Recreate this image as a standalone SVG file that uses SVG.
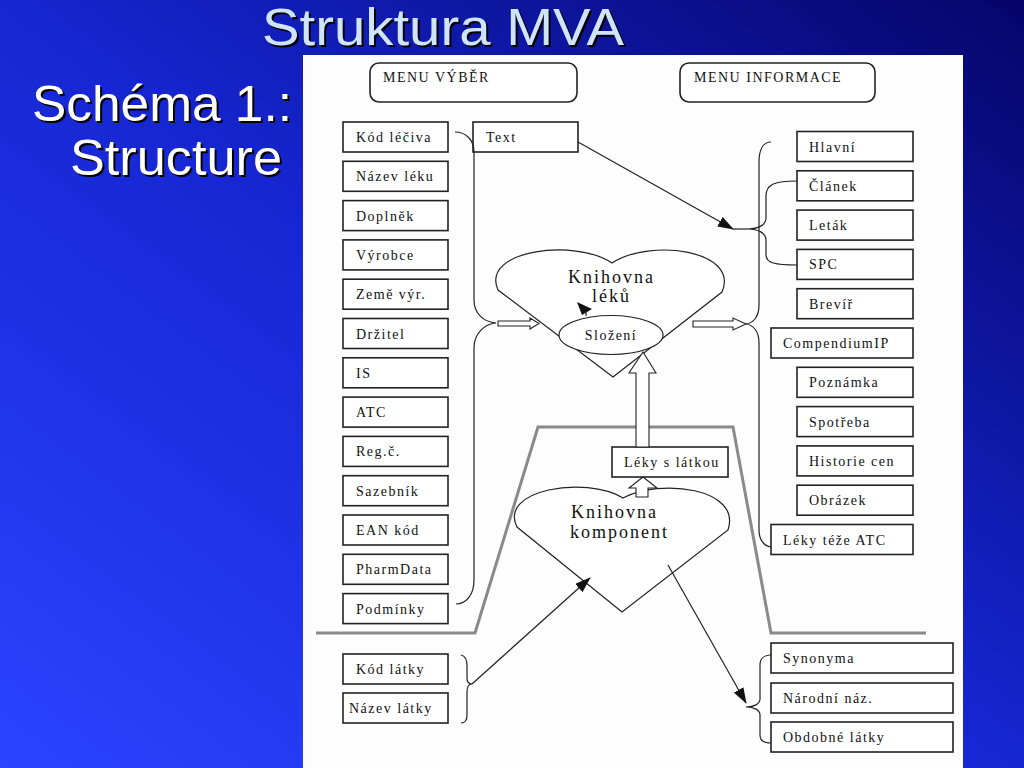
<svg xmlns="http://www.w3.org/2000/svg" width="1024" height="768" viewBox="0 0 1024 768">
<defs>
<linearGradient id="bg" x1="0" y1="1" x2="1" y2="0">
<stop offset="0" stop-color="#2a44ff"/>
<stop offset="0.5" stop-color="#1626d2"/>
<stop offset="1" stop-color="#05056a"/>
</linearGradient>
<marker id="ah" markerWidth="16" markerHeight="11" refX="15" refY="5.5" orient="auto" markerUnits="userSpaceOnUse">
<path d="M0,0 L16,5.5 L0,11 Z" fill="#111"/>
</marker>
<style>
.b{fill:#fff;stroke:#222;stroke-width:1.6}
.t{font-family:"Liberation Serif","Times New Roman",serif;font-size:14px;letter-spacing:1.5px;fill:#111}
.h{font-family:"Liberation Serif","Times New Roman",serif;font-size:18px;letter-spacing:2px;fill:#111}
.ln{fill:none;stroke:#222;stroke-width:1.2}
.ha{fill:#fff;stroke:#222;stroke-width:1.1}
.hd{fill:#fff;stroke:#222;stroke-width:1.2}
.gr{fill:none;stroke:#8a8a8a;stroke-width:3}
.ti{font-family:"Liberation Sans",Arial,sans-serif}
</style>
</defs>
<rect width="1024" height="768" fill="url(#bg)"/>
<g id="title">
<text class="ti" x="264" y="47" font-size="52" fill="#000" textLength="362" lengthAdjust="spacingAndGlyphs">Struktura MVA</text>
<text class="ti" x="262" y="45" font-size="52" fill="#cfe4ff" textLength="362" lengthAdjust="spacingAndGlyphs">Struktura MVA</text>
</g>
<g id="subtitle">
<text class="ti" x="34" y="123" font-size="50" fill="#000" textLength="260" lengthAdjust="spacingAndGlyphs">Schéma 1.:</text>
<text class="ti" x="32" y="121" font-size="50" fill="#fff" textLength="260" lengthAdjust="spacingAndGlyphs">Schéma 1.:</text>
<text class="ti" x="72" y="177" font-size="50" fill="#000" textLength="212" lengthAdjust="spacingAndGlyphs">Structure</text>
<text class="ti" x="70" y="175" font-size="50" fill="#fff" textLength="212" lengthAdjust="spacingAndGlyphs">Structure</text>
</g>
<rect x="303" y="55" width="660" height="713" fill="#fdfdfd"/>
<g id="divider">
<polyline class="gr" points="316,633 475,633 538,427 733,427 771,633 926,633"/>
</g>
<g id="heart-leku">
<path class="hd" d="M612,263 C650,238 740,250 722,292 L613,377 L498,290 C480,250 575,238 612,263 Z"/>
<text class="h" x="568" y="283">Knihovna</text>
<text class="h" x="592" y="302">léků</text>
</g>
<g id="slozeni">
<ellipse class="hd" cx="611" cy="335" rx="52" ry="19.5"/>
<text class="t" x="611" y="340" text-anchor="middle" font-size="13">Složení</text>
</g>
<g id="heart-komponent">
<path class="hd" d="M623,498 C660,478 742,488 728,530 L622,612 L517,527 C498,490 585,475 623,498 Z"/>
<text class="h" x="571" y="518">Knihovna</text>
<text class="h" x="570" y="538">komponent</text>
</g>
<g id="menu-vyber"><rect class="b" x="370" y="63" width="207" height="39" rx="9"/><text class="t" x="383" y="82" letter-spacing="2">MENU VÝBĚR</text></g>
<g id="menu-informace"><rect class="b" x="680" y="63" width="195" height="39" rx="9"/><text class="t" x="694" y="82" letter-spacing="1.6">MENU INFORMACE</text></g>
<g id="kod-leciva"><rect class="b" x="343" y="122" width="105" height="30"/><text class="t" x="356" y="142">Kód léčiva</text></g>
<g id="nazev-leku"><rect class="b" x="343" y="161.3" width="105" height="30"/><text class="t" x="356" y="181.3">Název léku</text></g>
<g id="doplnek"><rect class="b" x="343" y="200.6" width="105" height="30"/><text class="t" x="356" y="220.6">Doplněk</text></g>
<g id="vyrobce"><rect class="b" x="343" y="239.9" width="105" height="30"/><text class="t" x="356" y="259.9">Výrobce</text></g>
<g id="zeme"><rect class="b" x="343" y="279.2" width="105" height="30"/><text class="t" x="356" y="299.2">Země výr.</text></g>
<g id="drzitel"><rect class="b" x="343" y="318.5" width="105" height="30"/><text class="t" x="356" y="338.5">Držitel</text></g>
<g id="is"><rect class="b" x="343" y="357.8" width="105" height="30"/><text class="t" x="356" y="377.8">IS</text></g>
<g id="atc"><rect class="b" x="343" y="397.1" width="105" height="30"/><text class="t" x="356" y="417.1">ATC</text></g>
<g id="reg"><rect class="b" x="343" y="436.4" width="105" height="30"/><text class="t" x="356" y="456.4">Reg.č.</text></g>
<g id="sazebnik"><rect class="b" x="343" y="475.7" width="105" height="30"/><text class="t" x="356" y="495.7">Sazebník</text></g>
<g id="ean"><rect class="b" x="343" y="515" width="105" height="30"/><text class="t" x="356" y="535">EAN kód</text></g>
<g id="pharmdata"><rect class="b" x="343" y="554.3" width="105" height="30"/><text class="t" x="356" y="574.3">PharmData</text></g>
<g id="podminky"><rect class="b" x="343" y="593.6" width="105" height="30"/><text class="t" x="356" y="613.6">Podmínky</text></g>
<g id="text-box"><rect class="b" x="473" y="122" width="105" height="30"/><text class="t" x="486" y="142">Text</text></g>
<g id="hlavni"><rect class="b" x="797" y="131.5" width="116" height="30"/><text class="t" x="809" y="151.5">Hlavní</text></g>
<g id="clanek"><rect class="b" x="797" y="170.8" width="116" height="30"/><text class="t" x="809" y="190.8">Článek</text></g>
<g id="letak"><rect class="b" x="797" y="210.1" width="116" height="30"/><text class="t" x="809" y="230.1">Leták</text></g>
<g id="spc"><rect class="b" x="797" y="249.4" width="116" height="30"/><text class="t" x="809" y="269.4">SPC</text></g>
<g id="brevir"><rect class="b" x="797" y="288.7" width="116" height="30"/><text class="t" x="809" y="308.7">Brevíř</text></g>
<g id="compendium"><rect class="b" x="771" y="328" width="142" height="30"/><text class="t" x="783" y="348">CompendiumIP</text></g>
<g id="poznamka"><rect class="b" x="797" y="367.3" width="116" height="30"/><text class="t" x="809" y="387.3">Poznámka</text></g>
<g id="spotreba"><rect class="b" x="797" y="406.6" width="116" height="30"/><text class="t" x="809" y="426.6">Spotřeba</text></g>
<g id="historie"><rect class="b" x="797" y="445.9" width="116" height="30"/><text class="t" x="809" y="465.9">Historie cen</text></g>
<g id="obrazek"><rect class="b" x="797" y="485.2" width="116" height="30"/><text class="t" x="809" y="505.2">Obrázek</text></g>
<g id="leky-teze-atc"><rect class="b" x="771" y="524.5" width="142" height="30"/><text class="t" x="783" y="544.5">Léky téže ATC</text></g>
<g id="leky-s-latkou"><rect class="b" x="612" y="447" width="116" height="30"/><text class="t" x="624" y="467">Léky s látkou</text></g>
<g id="kod-latky"><rect class="b" x="343" y="654" width="105" height="30"/><text class="t" x="356" y="674">Kód látky</text></g>
<g id="nazev-latky"><rect class="b" x="343" y="693" width="105" height="30"/><text class="t" x="349" y="713">Název látky</text></g>
<g id="synonyma"><rect class="b" x="771" y="643" width="182" height="30"/><text class="t" x="783" y="663">Synonyma</text></g>
<g id="narodni"><rect class="b" x="771" y="683" width="182" height="30"/><text class="t" x="783" y="703">Národní náz.</text></g>
<g id="obdobne"><rect class="b" x="771" y="722" width="182" height="30"/><text class="t" x="783" y="742">Obdobné látky</text></g>
<g id="connectors">
<path class="ln" d="M455,132 C466,132 474,140 474,152 L474,300 C474,314 484,322 496,323 C484,324 474,334 474,348 L474,580 C474,595 466,604 456,604"/>
<path class="ln" d="M771,142 C763,142 759,150 759,162 L759,305 C759,316 754,323 746,324 C754,325 759,332 759,343 L759,530 C759,540 764,546 771,547"/>
<path class="ln" d="M797,181 C775,181 766,184 766,196 L766,218 C766,225 758,229 748,229 C758,229 766,233 766,240 L766,255 C766,263 775,265 797,265"/>
<path class="ln" d="M461,655 C466,656 467,660 467,666 L467,678 C467,682 469,684 472,684 C469,684 467,687 467,692 L467,715 C467,720 465,723 461,723"/>
<path class="ln" d="M771,655 C764,655 760,659 760,665 L760,699 C760,704 754,707 746,707 C754,707 760,710 760,715 L760,735 C760,740 764,743 771,743"/>
<line class="ln" x1="578" y1="142" x2="733" y2="229" marker-end="url(#ah)"/>
<line class="ln" x1="733" y1="229" x2="748" y2="229"/>
<line class="ln" x1="472" y1="684" x2="590" y2="578" marker-end="url(#ah)"/>
<line class="ln" x1="668" y1="565" x2="746" y2="703" marker-end="url(#ah)"/>
<polygon class="ha" points="498,321 530,321 530,318 539,323.5 530,329 530,326 498,326"/>
<polygon class="ha" points="693,321 733,321 733,318 746,324 733,330 733,327 693,327"/>
<polygon class="ha" points="636,447 636,373 629,373 643,352 656,373 649,373 649,447"/>
<polygon class="ha" points="636,497 636,488 629,488 643,477 657,488 648,488 648,497"/>
<polygon points="577,302 592,309 582,315" fill="#111"/>
<line class="ln" x1="586" y1="311" x2="586" y2="316"/>
</g>
</svg>
